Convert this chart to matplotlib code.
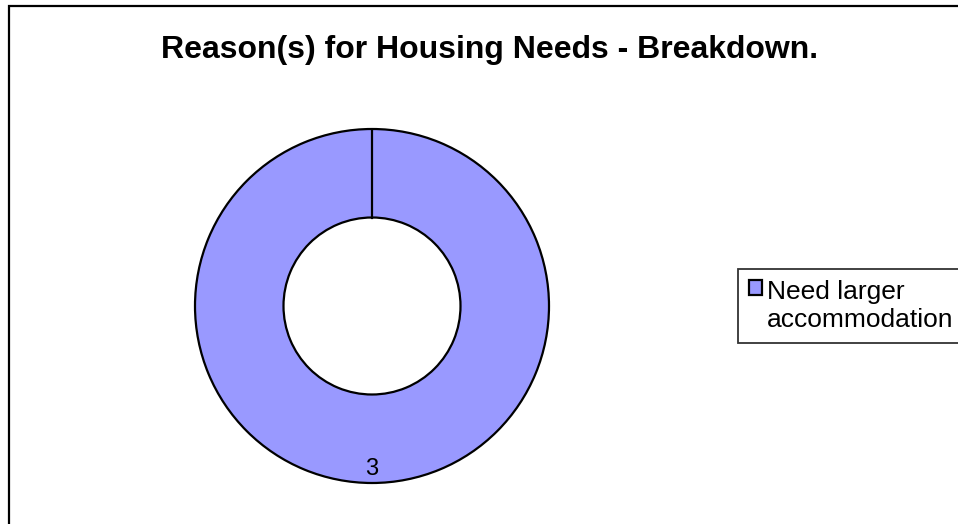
import matplotlib.pyplot as plt
from matplotlib.patches import Rectangle

categories = ['Need larger\naccommodation']
values = [3]
colors = ['#9999FF']

plt.rcParams['font.family'] = ['Liberation Sans', 'DejaVu Sans']

fig = plt.figure(figsize=(9.58, 5.24), dpi=100)

# chart frame, runs off the right and bottom edges
fig.patches.append(Rectangle((9 / 958, -0.05), 1.2, 1.05 - 6 / 524,
                             transform=fig.transFigure, fill=False,
                             edgecolor='black', linewidth=1.6, clip_on=False))

# pie area: centre (372, 306) px, outer radius ~177 px
r = 177
ax = fig.add_axes([(372 - r) / 958, (524 - 306 - r) / 524, 2 * r / 958, 2 * r / 524])
wedges, _ = ax.pie(values, colors=colors, startangle=90, counterclock=False,
                   radius=1.0, wedgeprops=dict(width=0.5, edgecolor='black', linewidth=1.6))
ax.plot([0, 0], [0.5, 1.0], color='black', linewidth=1.6)
ax.text(0, -0.92, str(values[0]), ha='center', va='center', fontsize=17)
ax.set_xlim(-1, 1)
ax.set_ylim(-1, 1)
ax.set_aspect('equal')
ax.axis('off')

fig.text(490 / 958, 1 - 50 / 524, 'Reason(s) for Housing Needs - Breakdown.',
         ha='center', va='center', fontsize=23, fontweight='bold')

leg = fig.legend(wedges, categories, loc='upper left',
                 bbox_to_anchor=(738 / 958, 1 - 269 / 524), fontsize=19,
                 frameon=True, fancybox=False, edgecolor='black',
                 handlelength=0.5, handleheight=0.5, handletextpad=0.2,
                 borderpad=0.4, borderaxespad=0)
leg.get_frame().set_linewidth(1.3)
leg.get_texts()[0].set_linespacing(1.25)
leg._legend_handle_box.get_children()[0].get_children()[0].align = 'top'

fig.savefig('out.png', dpi=100)
